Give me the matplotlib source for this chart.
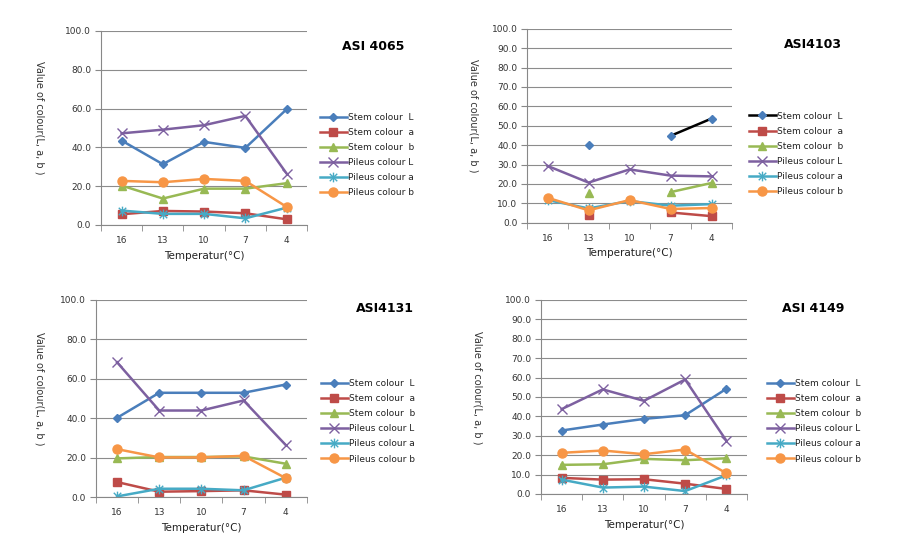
import numpy as np
import matplotlib
matplotlib.use('Agg')
import matplotlib.pyplot as plt
from matplotlib.path import Path

temps = ['16', '13', '10', '7', '4']
series_names = ['Stem colour  L', 'Stem colour  a', 'Stem colour  b',
                'Pileus colour L', 'Pileus colour a', 'Pileus colour b']
nan = np.nan

# ASI 4065
a4065_stem_L = [43.5, 31.3, 42.8, 39.7, 59.6]
a4065_stem_a = [5.5, 7.2, 6.9, 6.0, 2.9]
a4065_stem_b = [20.3, 13.6, 18.7, 18.7, 21.5]
a4065_pil_L = [47.2, 49.1, 51.4, 56.2, 26.5]
a4065_pil_a = [7.4, 5.7, 5.7, 3.4, 8.9]
a4065_pil_b = [22.7, 22.0, 23.7, 22.7, 9.3]

# ASI4103 (gaps where no value)
a4103_stem_L = [nan, 39.9, nan, 44.8, 53.7]
a4103_stem_a = [nan, 3.8, nan, 5.3, 3.4]
a4103_stem_b = [nan, 15.3, nan, 15.8, 20.5]
a4103_pil_L = [29.3, 20.7, 27.5, 24.3, 23.9]
a4103_pil_a = [11.7, 7.4, 11.2, 8.8, 9.6]
a4103_pil_b = [12.9, 6.4, 11.7, 7.1, 7.6]

# ASI4131
a4131_stem_L = [40.2, 52.9, 52.9, 52.9, 57.1]
a4131_stem_a = [7.6, 2.7, 3.0, 3.4, 1.2]
a4131_stem_b = [19.6, 20.3, 20.3, 20.6, 16.9]
a4131_pil_L = [68.4, 43.9, 43.9, 49.0, 26.4]
a4131_pil_a = [0.3, 4.2, 4.2, 3.4, 9.8]
a4131_pil_b = [24.3, 20.1, 20.1, 20.9, 9.6]

# ASI 4149
a4149_stem_L = [32.7, 35.8, 38.7, 40.6, 54.2]
a4149_stem_a = [8.3, 7.4, 7.6, 5.3, 2.6]
a4149_stem_b = [15.0, 15.3, 18.1, 17.4, 18.4]
a4149_pil_L = [43.7, 53.9, 48.0, 59.0, 27.5]
a4149_pil_a = [7.4, 3.3, 3.8, 1.5, 9.6]
a4149_pil_b = [21.2, 22.4, 20.5, 22.9, 10.7]

# excel-like asterisk marker: x with a vertical bar
asterisk = Path([(-1, -1), (1, 1), (-1, 1), (1, -1), (0, -1.3), (0, 1.3)],
                [Path.MOVETO, Path.LINETO, Path.MOVETO, Path.LINETO, Path.MOVETO, Path.LINETO])

colors = ['#4A7EBB', '#BE4B48', '#98B954', '#7D60A0', '#46AAC5', '#F79646']
markers = ['D', 's', '^', 'x', asterisk, 'o']
msizes = [4.5, 6, 6, 6.5, 7, 6.5]

panels = [
    dict(title='ASI 4065', xlabel='Temperatur(°C)', step=20,
         data=[a4065_stem_L, a4065_stem_a, a4065_stem_b, a4065_pil_L, a4065_pil_a, a4065_pil_b],
         rect=[0.112, 0.585, 0.229, 0.358], title_xy=(0.414, 0.915),
         leg_xy=(0.355, 0.792), ylab_x=0.044, black_first=False),
    dict(title='ASI4103', xlabel='Temperature(°C)', step=10,
         data=[a4103_stem_L, a4103_stem_a, a4103_stem_b, a4103_pil_L, a4103_pil_a, a4103_pil_b],
         rect=[0.585, 0.589, 0.2275, 0.358], title_xy=(0.902, 0.918),
         leg_xy=(0.831, 0.794), ylab_x=0.525, black_first=True),
    dict(title='ASI4131', xlabel='Temperatur(°C)', step=20,
         data=[a4131_stem_L, a4131_stem_a, a4131_stem_b, a4131_pil_L, a4131_pil_a, a4131_pil_b],
         rect=[0.1065, 0.083, 0.234, 0.3635], title_xy=(0.427, 0.43),
         leg_xy=(0.356, 0.301), ylab_x=0.044, black_first=False),
    dict(title='ASI 4149', xlabel='Temperatur(°C)', step=10,
         data=[a4149_stem_L, a4149_stem_a, a4149_stem_b, a4149_pil_L, a4149_pil_a, a4149_pil_b],
         rect=[0.6004, 0.0886, 0.2286, 0.358], title_xy=(0.902, 0.43),
         leg_xy=(0.851, 0.301), ylab_x=0.530, black_first=False),
]

fig = plt.figure(figsize=(9.01, 5.42), dpi=100)
fig.patch.set_facecolor('white')

x = np.arange(len(temps)) + 0.5
for p in panels:
    ax = fig.add_axes(p['rect'])
    for i, vals in enumerate(p['data']):
        line_c = 'black' if (i == 0 and p['black_first']) else colors[i]
        ax.plot(x, vals, color=line_c, lw=1.8, marker=markers[i], ms=msizes[i],
                mfc=colors[i], mec=colors[i], mew=1.0, label=series_names[i])
    ax.set_xlim(0, 5)
    ax.set_ylim(0, 100)
    ax.set_yticks(np.arange(0, 101, p['step']))
    ax.set_yticklabels(['%.1f' % v for v in np.arange(0, 101, p['step'])])
    ax.set_xticks(x)
    ax.set_xticklabels(temps)
    ax.set_xticks(np.arange(0, 6), minor=True)
    ax.tick_params(axis='x', which='major', length=0, pad=8, labelsize=6.5, colors='#333333')
    ax.tick_params(axis='x', which='minor', length=4, direction='out', color='#888888')
    ax.tick_params(axis='y', length=4, direction='out', color='#888888', labelsize=6.5,
                   labelcolor='#333333', pad=3)
    ax.yaxis.grid(True, color='#8c8c8c', lw=0.8)
    ax.set_axisbelow(True)
    for s in ['top', 'right']:
        ax.spines[s].set_visible(False)
    for s in ['left', 'bottom']:
        ax.spines[s].set_color('#888888')
    ax.set_xlabel(p['xlabel'], fontsize=7.5, color='#222222', labelpad=4)
    fig.text(p['ylab_x'], p['rect'][1] + p['rect'][3] * 0.55, 'Value of colour(L, a, b )',
             rotation=270, ha='center', va='center', fontsize=7, color='#333333')
    fig.text(p['title_xy'][0], p['title_xy'][1], p['title'], fontsize=9, fontweight='bold',
             ha='center', va='center')
    leg = ax.legend(loc='upper left', bbox_to_anchor=(p['leg_xy'][0], p['leg_xy'][1]),
                    bbox_transform=fig.transFigure, frameon=False, fontsize=6.5,
                    handlelength=3.0, handletextpad=0.1, labelspacing=0.68,
                    borderpad=0, borderaxespad=0)
    for t in leg.get_texts():
        t.set_color('#222222')

fig.savefig('out.png', dpi=100)
